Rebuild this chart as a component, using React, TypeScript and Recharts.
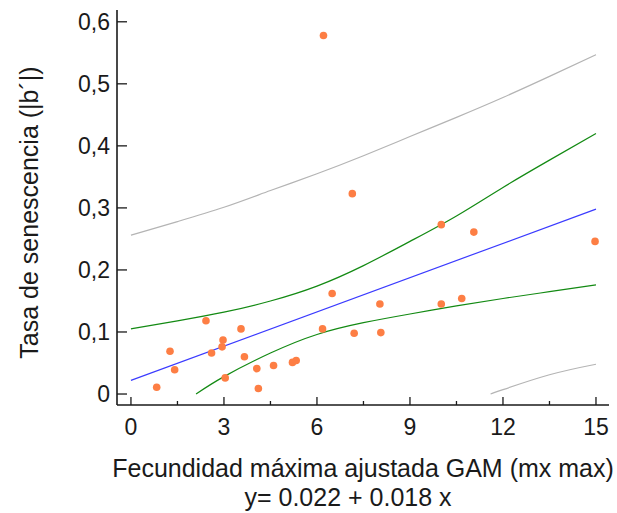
import { ComposedChart, Line, Scatter, XAxis, YAxis } from "recharts";

// observed species: GAM-adjusted max fecundity vs senescence rate
const fecundity = [
  0.83, 1.26, 1.41, 2.42, 2.6, 2.94, 2.97, 3.04, 3.55, 3.66, 4.06, 4.11, 4.6, 5.21,
  5.33, 6.18, 6.21, 6.49, 7.14, 7.2, 8.03, 8.06, 10.01, 10.01, 10.67, 11.06, 14.97,
];
const senescence = [
  0.011, 0.069, 0.039, 0.118, 0.066, 0.076, 0.087, 0.026, 0.105, 0.06, 0.041, 0.009, 0.046, 0.051,
  0.054, 0.105, 0.578, 0.162, 0.323, 0.098, 0.145, 0.099, 0.273, 0.145, 0.154, 0.261, 0.246,
];

// fitted line y = 0.022 + 0.018 x
const fitX = [0, 15];
const fitY = [0.022, 0.298];

// confidence band for the mean
const bandX = [0, 1.5, 3, 4.5, 6, 7.5, 9, 10.5, 12, 13.5, 15];
const confUpper = [0.105, 0.118, 0.132, 0.15, 0.174, 0.207, 0.246, 0.287, 0.333, 0.377, 0.42];
const confLowerX = [2.1, 3, 4.5, 6, 7.5, 9, 10.5, 12, 13.5, 15];
const confLower = [0, 0.028, 0.066, 0.096, 0.115, 0.129, 0.142, 0.154, 0.165, 0.176];

// prediction band
const predUpper = [0.256, 0.278, 0.301, 0.328, 0.355, 0.384, 0.415, 0.446, 0.478, 0.512, 0.547];
const predLowerX = [11.6, 12, 13.5, 15];
const predLower = [0, 0.007, 0.031, 0.048];

const xTicks = [0, 1.5, 3, 4.5, 6, 7.5, 9, 10.5, 12, 13.5, 15];
const yTicks = [0, 0.1, 0.2, 0.3, 0.4, 0.5, 0.6];

const FONT = "'Liberation Sans', Arial, sans-serif";
const INK = "#1a1a1a";

const zip = (xs: number[], ys: number[]) => xs.map((x, i) => ({ x, y: ys[i] }));

const points = zip(fecundity, senescence);

const fmtY = (v: number) => (v === 0 ? "0" : v.toFixed(1).replace(".", ","));

function XTick({ x, y, payload }: any) {
  const major = Math.abs(payload.value % 3) < 1e-6;
  return (
    <g>
      <line x1={x} y1={y} x2={x} y2={y - (major ? 8 : 4)} stroke={INK} strokeWidth={1.3} />
      {major && (
        <text x={x} y={y + 30} textAnchor="middle" fontSize={23} fontFamily={FONT} fill={INK}>
          {payload.value}
        </text>
      )}
    </g>
  );
}

function YTick({ x, y, payload }: any) {
  return (
    <g>
      <line x1={x} y1={y} x2={x + 10} y2={y} stroke={INK} strokeWidth={1.3} />
      <text x={x - 7} y={y} dy="0.36em" textAnchor="end" fontSize={23} fontFamily={FONT} fill={INK}>
        {fmtY(payload.value)}
      </text>
    </g>
  );
}

function XTitle({ viewBox }: any) {
  const cx = viewBox.x + viewBox.width / 2;
  return (
    <g fontFamily={FONT} fontSize={25} fill={INK}>
      <text x={cx} y={viewBox.y + 72} textAnchor="middle">
        Fecundidad máxima ajustada GAM (mx max)
      </text>
      <text x={cx - 15} y={viewBox.y + 101} textAnchor="middle">
        y= 0.022 + 0.018 x
      </text>
    </g>
  );
}

function YTitle({ viewBox }: any) {
  const cy = viewBox.y + viewBox.height / 2 + 5;
  return (
    <text
      transform={`translate(29, ${cy}) rotate(-90)`}
      dy="0.36em"
      textAnchor="middle"
      fontFamily={FONT}
      fontSize={25}
      fill={INK}
    >
      Tasa de senescencia (|b´|)
    </text>
  );
}

const dot = (p: any) => <circle cx={p.cx} cy={p.cy} r={3.8} fill="#fd7e44" />;

export default function App() {
  return (
    <div style={{ position: "absolute", left: 0, top: 0, width: 617, height: 513, background: "#fff" }}>
      <ComposedChart width={617} height={513} margin={{ top: 10, right: 8, left: 0, bottom: 0 }}>
        <XAxis
          type="number"
          dataKey="x"
          domain={[-0.45, 15.42]}
          allowDataOverflow
          ticks={xTicks}
          interval={0}
          height={108}
          tickSize={0}
          tickMargin={0}
          tick={XTick}
          axisLine={{ stroke: INK, strokeWidth: 1.6 }}
          label={{ content: XTitle }}
        />
        <YAxis
          type="number"
          domain={[-0.0177, 0.619]}
          allowDataOverflow
          ticks={yTicks}
          interval={0}
          width={117}
          tickSize={0}
          tickMargin={0}
          tick={YTick}
          axisLine={{ stroke: INK, strokeWidth: 1.6 }}
          label={{ content: YTitle }}
        />
        <Line data={zip(bandX, predUpper)} dataKey="y" type="natural" stroke="#b4b4b4" strokeWidth={1.2} dot={false} isAnimationActive={false} />
        <Line data={zip(predLowerX, predLower)} dataKey="y" type="natural" stroke="#b4b4b4" strokeWidth={1.2} dot={false} isAnimationActive={false} />
        <Line data={zip(bandX, confUpper)} dataKey="y" type="natural" stroke="#138a13" strokeWidth={1.2} dot={false} isAnimationActive={false} />
        <Line data={zip(confLowerX, confLower)} dataKey="y" type="natural" stroke="#138a13" strokeWidth={1.2} dot={false} isAnimationActive={false} />
        <Line data={zip(fitX, fitY)} dataKey="y" type="linear" stroke="#3b3bff" strokeWidth={1.2} dot={false} isAnimationActive={false} />
        <Scatter data={points} dataKey="y" shape={dot} isAnimationActive={false} />
      </ComposedChart>
    </div>
  );
}
